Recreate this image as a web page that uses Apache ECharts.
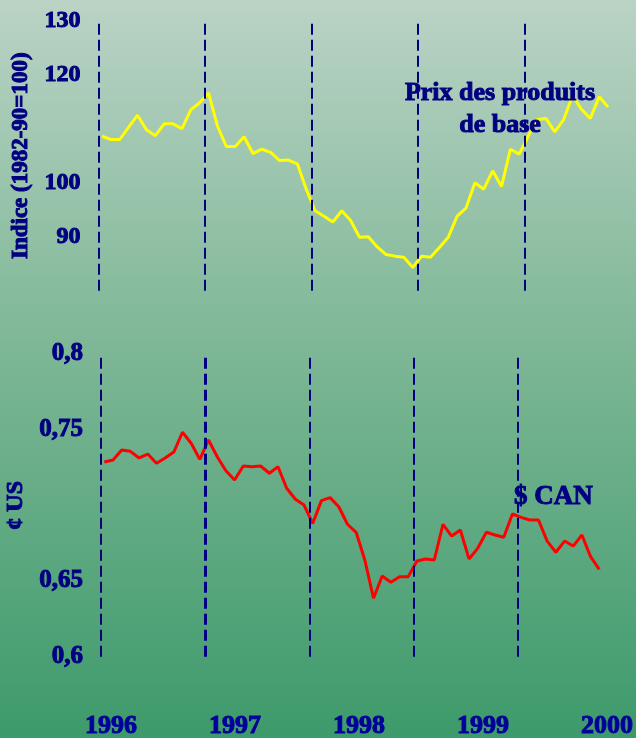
<!DOCTYPE html>
<html>
<head>
<meta charset="utf-8">
<script src="https://cdn.jsdelivr.net/npm/echarts@6/dist/echarts.min.js"></script>
<style>
  html, body { margin: 0; padding: 0; }
  #chart { width: 636px; height: 738px; }
</style>
</head>
<body>
<div id="chart"></div>
<script>
// indice des prix des produits de base (1982-90=100), mensuel 1996-2000
const commodityIndex = [
  108.6, 108.0, 108.0, 110.3, 112.5, 109.8, 108.7, 110.9, 110.9, 110.0,
  113.5, 114.8, 116.6, 110.5, 106.7, 106.7, 108.5, 105.4, 106.2, 105.6,
  104.1, 104.2, 103.5, 98.8, 94.8, 93.8, 92.7, 94.8, 93.0, 89.9,
  90.0, 88.1, 86.7, 86.4, 86.2, 84.3, 86.4, 86.2, 88.0, 89.9,
  93.8, 95.3, 100.0, 98.8, 102.2, 99.3, 106.2, 105.3, 108.6, 111.7,
  111.9, 109.4, 111.7, 116.1, 113.6, 111.9, 115.9, 114.0
]
// dollar canadien en cents US
const cadUsd = [
  0.7286, 0.7300, 0.7366, 0.7357, 0.7313, 0.7339, 0.7278, 0.7313, 0.7352, 0.7483,
  0.7410, 0.7304, 0.7432, 0.7321, 0.7229, 0.7167, 0.7260, 0.7255, 0.7260, 0.7212,
  0.7255, 0.7113, 0.7040, 0.7002, 0.6881, 0.7031, 0.7051, 0.6991, 0.6875, 0.6822,
  0.6639, 0.6386, 0.6533, 0.6492, 0.6529, 0.6529, 0.6632, 0.6646, 0.6639, 0.6875,
  0.6797, 0.6837, 0.6646, 0.6716, 0.6822, 0.6804, 0.6789, 0.6943, 0.6921, 0.6903,
  0.6903, 0.6764, 0.6690, 0.6764, 0.6731, 0.6804, 0.6661, 0.6577
]
const years = ['1996', '1997', '1998', '1999', '2000']
const yearMarks = [-0.4, 11.6, 23.6, 35.6, 47.6]
const topTicks = [90, 100, 120, 130]
const bottomTicks = [0.6, 0.65, 0.75, 0.8]

const navy = '#000080'
const font = 'Liberation Serif'
// the bold face renders thin here, so thicken strokes with a border of the same colour
const heavy = { color: navy, fontWeight: 'bold', fontFamily: font, textBorderColor: navy, textBorderWidth: 1 }

const myChart = echarts.init(document.getElementById('chart'))

const withIndex = (arr) => arr.map((v, i) => [i, v])
const marks = (widths) => ({
  silent: true,
  symbol: 'none',
  label: { show: false },
  data: yearMarks.map((x, i) => ({
    xAxis: x,
    lineStyle: { color: navy, width: widths[i], type: [11, 5] },
  })),
})

myChart.setOption({
  backgroundColor: {
    type: 'linear', x: 0, y: 0, x2: 0, y2: 1,
    colorStops: [
      { offset: 0, color: '#bad3c5' },
      { offset: 0.45, color: '#80b898' },
      { offset: 1, color: '#3d9a6b' },
    ],
  },
  textStyle: { fontFamily: font },
  grid: [
    { left: 97.6, width: 514.9, top: 20.7, height: 270, outerBoundsMode: 'none', containLabel: false },
    { left: 100, width: 503.6, top: 354, height: 302.7, outerBoundsMode: 'none', containLabel: false },
    { left: 111, width: 496, top: 704, height: 1, outerBoundsMode: 'none', containLabel: false },
  ],
  xAxis: [
    { type: 'value', gridIndex: 0, min: -0.5, max: 57.5, show: false },
    { type: 'value', gridIndex: 1, min: -0.5, max: 57.5, show: false },
    {
      type: 'category', gridIndex: 2, data: years, boundaryGap: false,
      axisLine: { show: false }, axisTick: { show: false },
      axisLabel: { ...heavy, color: '#00009a', textBorderColor: '#00009a', fontSize: 26, margin: 8, interval: 0 },
    },
  ],
  yAxis: [
    {
      type: 'value', gridIndex: 0, min: 80, max: 130, interval: 10,
      splitLine: { show: false }, axisLine: { show: false }, axisTick: { show: false },
      axisLabel: {
        ...heavy, fontSize: 24, margin: 17,
        formatter: (v) => topTicks.includes(v) ? String(v) : '',
      },
      name: 'Indice (1982-90=100)',
      nameLocation: 'middle', nameRotate: 90, nameGap: 61,
      nameTextStyle: { ...heavy, fontSize: 23 },
    },
    {
      type: 'value', gridIndex: 1, min: 0.6, max: 0.8, interval: 0.05,
      splitLine: { show: false }, axisLine: { show: false }, axisTick: { show: false },
      axisLabel: {
        ...heavy, fontSize: 25, margin: 17,
        formatter: (v) => {
          const r = +v.toFixed(2)
          return bottomTicks.includes(r) ? String(r).replace('.', ',') : ''
        },
      },
      name: '¢ US',
      nameLocation: 'middle', nameRotate: 90, nameGap: 71,
      nameTextStyle: { ...heavy, fontSize: 24 },
    },
    { type: 'value', gridIndex: 2, show: false },
  ],
  series: [
    {
      type: 'line', xAxisIndex: 0, yAxisIndex: 0,
      data: withIndex(commodityIndex),
      showSymbol: false, symbol: 'none',
      lineStyle: { color: '#ffff00', width: 3 },
      markLine: marks([2, 2, 2, 2, 2]),
      z: 3,
    },
    {
      type: 'line', xAxisIndex: 1, yAxisIndex: 1,
      data: withIndex(cadUsd),
      showSymbol: false, symbol: 'none',
      lineStyle: { color: '#ff0000', width: 3 },
      markLine: marks([2, 3, 2, 2, 2]),
      z: 3,
    },
  ],
  graphic: [
    {
      type: 'text', x: 500, y: 77, z: 10,
      style: {
        text: 'Prix des produits\nde base', fill: navy, stroke: navy, lineWidth: 1,
        align: 'center', verticalAlign: 'top',
        font: 'bold 26px "Liberation Serif"', lineHeight: 32,
      },
    },
    {
      type: 'text', x: 514, y: 484, z: 10,
      style: {
        text: '$ CAN', fill: navy, stroke: navy, lineWidth: 1,
        verticalAlign: 'top', font: 'bold 27px "Liberation Serif"',
      },
    },
  ],
})
</script>
</body>
</html>
